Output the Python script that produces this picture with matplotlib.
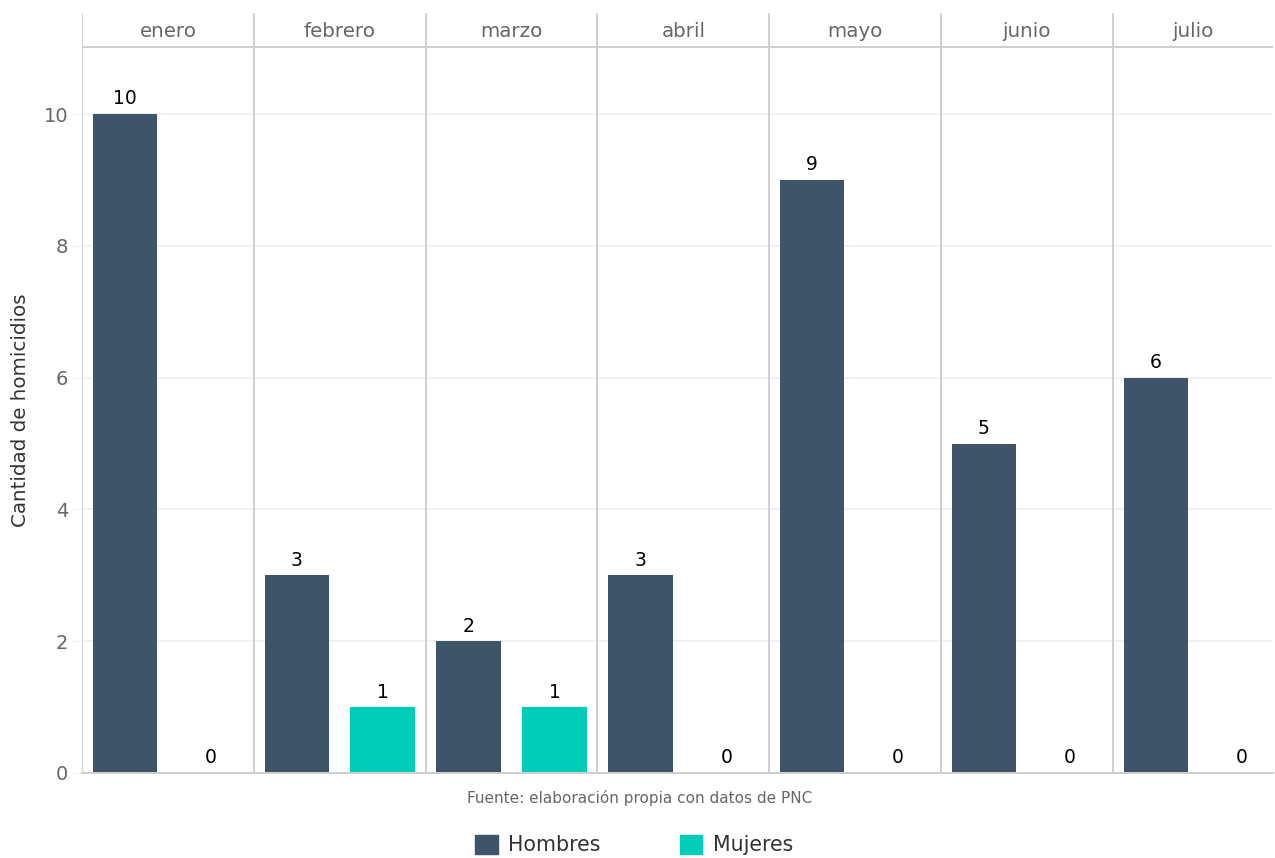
import matplotlib.pyplot as plt
from matplotlib.patches import Patch

meses = ['enero', 'febrero', 'marzo', 'abril', 'mayo', 'junio', 'julio']
hombres = [10, 3, 2, 3, 9, 5, 6]
mujeres = [0, 1, 1, 0, 0, 0, 0]

col_h = '#3e5468'
col_m = '#00ccb8'
linea = '#cfcfcf'

W, H = 1275, 858
fig = plt.figure(figsize=(W / 100, H / 100), dpi=100)

# pixel layout
x0, x1 = 82, 1273
y_zero, y_ten, y_top = 773, 114, 13
ppu = (y_zero - y_ten) / 10.0
ymax = (y_zero - y_top) / ppu
y_strip = (y_zero - 47) / ppu

ax = fig.add_axes([x0 / W, 1 - y_zero / H, (x1 - x0) / W, (y_zero - y_top) / H])
xmax = 0.5 + (x1 - x0) / 85.9
ax.set_xlim(0.5, xmax)
ax.set_ylim(0, ymax)

# grid
for v in [0, 2, 4, 6, 8, 10]:
    ax.axhline(v, color='#efefef', lw=1.2, zorder=0)

bw = 0.75
for i, m in enumerate(meses):
    xh = 2 * i + 1
    xm = 2 * i + 2
    ax.bar(xh, hombres[i], width=bw, color=col_h, zorder=2)
    ax.bar(xm, mujeres[i], width=bw, color=col_m, zorder=2)
    for xx, val in [(xh, hombres[i]), (xm, mujeres[i])]:
        ax.annotate(str(val), (xx, val), xytext=(0, 4), textcoords='offset points',
                    ha='center', va='bottom', fontsize=13.5, color='black')
    # panel border
    left = 2 * i + 0.5
    ax.axvline(left, color=linea, lw=1.4, zorder=1)
    right = min(2 * i + 2.5, xmax)
    ax.text((left + right) / 2, (ymax + y_strip) / 2 - 0.03, m, ha='center', va='center',
            fontsize=14.3, color='#666666')

ax.axhline(y_strip, color=linea, lw=1.4, zorder=1)

for s in ['top', 'right', 'left']:
    ax.spines[s].set_visible(False)
ax.spines['bottom'].set_color(linea)
ax.spines['bottom'].set_linewidth(1.4)

ax.set_xticks([])
ax.set_yticks([0, 2, 4, 6, 8, 10])
ax.tick_params(axis='y', length=7, color='#efefef', labelsize=14, labelcolor='#666666', pad=3)
ax.set_ylabel('Cantidad de homicidios', fontsize=14.3, color='#333333')
ax.yaxis.set_label_coords(-52 / (x1 - x0), (y_zero - 410) / (y_zero - y_top))

fig.text(640 / W, 1 - 798 / H, 'Fuente: elaboración propia con datos de PNC',
         ha='center', va='center', fontsize=11, color='#666666')

handles = [Patch(color=col_h, label='Hombres'), Patch(color=col_m, label='Mujeres')]
fig.legend(handles=handles, loc='center', bbox_to_anchor=(634 / W, 1 - 845 / H), ncol=2,
           frameon=False, fontsize=14.8, handlelength=1.1, handleheight=1.1,
           handletextpad=0.5, columnspacing=3.85, labelcolor='#333333',
           borderpad=0.1)

fig.savefig('out.png', dpi=100)
